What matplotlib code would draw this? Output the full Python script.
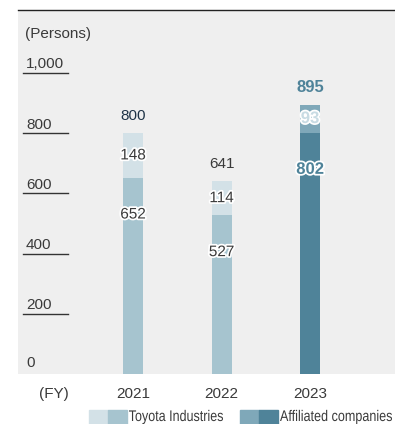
import matplotlib.pyplot as plt
import matplotlib.patheffects as pe
from matplotlib.patches import Rectangle, PathPatch
from matplotlib.textpath import TextPath
from matplotlib.font_manager import FontProperties
from matplotlib.transforms import Affine2D

# Employee counts by fiscal year
years = ['2021', '2022', '2023']
lower = [652, 527, 802]
upper = [148, 114, 93]
totals = [800, 641, 895]
y_ticks = [0, 200, 400, 600, 800, 1000]
y_tick_labels = ['0', '200', '400', '600', '800', '1,000']
legend_labels = ['Toyota Industries', 'Affiliated companies']

top_colors = ['#d3e1e7', '#d3e1e7', '#7fa8b9']
bottom_colors = ['#a6c4cf', '#a6c4cf', '#4f8399']

plt.rcParams['font.family'] = ['Liberation Sans', 'DejaVu Sans']

W, H = 395, 424
fig = plt.figure(figsize=(W / 100, H / 100), dpi=100)
ax = fig.add_axes([18 / W, (H - 374) / H, (W - 18) / W, 364 / H])
ax.set_facecolor('#efefef')

x = [0, 1, 2]
bw = 0.226
ax.bar(x, lower, width=bw, color=bottom_colors, zorder=2)
ax.bar(x, upper, bottom=lower, width=bw, color=top_colors, zorder=2)

ax.set_xlim(-1.30, 2.96)
ax.set_ylim(0, 1209)
ax.set_xticks([])
ax.set_yticks([])
for s in ['left', 'right', 'bottom']:
    ax.spines[s].set_visible(False)
ax.spines['top'].set_color('#222222')
ax.spines['top'].set_linewidth(1.0)

FS = 11
TXT = '#3a3a3a'

# y-axis labels sit on short underlines
trans = ax.get_yaxis_transform()
for v, lab in zip(y_ticks, y_tick_labels):
    ax.annotate(lab, (0.021, v), xycoords=trans,
                xytext=(0, 5 if v == 0 else 3.2), textcoords='offset points',
                ha='left', va='baseline', fontsize=FS, color=TXT)
    if v > 0:
        ax.plot([0.0133, 0.1326], [v, v], transform=trans, color='#333333',
                lw=1.0, clip_on=False)
ax.text(0.019, 1128, '(Persons)', transform=trans, ha='left', va='center',
        fontsize=FS, color=TXT)

outline = [pe.withStroke(linewidth=2.5, foreground='white')]

# segment and total labels (latest year in bold)
for i in range(3):
    bold = i == 2
    fs = 12 if bold else FS
    wt = 'bold' if bold else 'normal'
    ax.annotate(str(lower[i]), (x[i], lower[i]), xytext=(0, -26.5),
                textcoords='offset points', ha='center', va='center',
                fontsize=fs, color='#4f8399' if bold else TXT,
                fontweight=wt, path_effects=outline, zorder=4)
    ax.text(x[i], lower[i] + upper[i] / 2, str(upper[i]), ha='center',
            va='center', fontsize=fs, color='#c8dbe3' if bold else TXT,
            fontweight=wt, path_effects=outline, zorder=4)
    tot_color = ['#1f3447', TXT, '#4f8399'][i]
    ax.annotate(str(totals[i]), (x[i], totals[i]), xytext=(0, 12),
                textcoords='offset points', ha='center', va='center',
                fontsize=fs, color=tot_color, fontweight=wt, zorder=4)

# category labels below the panel
for xi, yr in zip(x, years):
    ax.annotate(yr, (xi, 0), xytext=(0, -14.5), textcoords='offset points',
                ha='center', va='center', fontsize=FS, color=TXT,
                annotation_clip=False)
ax.annotate('(FY)', (0.095, 0), xycoords=trans, xytext=(0, -14.5),
            textcoords='offset points', ha='center', va='center',
            fontsize=FS, color=TXT, annotation_clip=False)

# legend: two-tone swatches with condensed labels
def swatch(x0, c1, c2):
    for k, c in enumerate([c1, c2]):
        fig.patches.append(Rectangle(((x0 + 19 * k) / W, 0), 19 / W, 14 / H,
                                     color=c, transform=fig.transFigure,
                                     figure=fig))

def narrow_text(s, x0, width, size=15.4, baseline=3):
    tp = TextPath((0, 0), s, size=size, prop=FontProperties(family='Liberation Sans'))
    ext = tp.get_extents()
    sx = width / ext.width
    tr = Affine2D().translate(-ext.x0, 0).scale(sx, 1).translate(x0, baseline)
    fig.add_artist(PathPatch(tp, transform=tr, facecolor=TXT, lw=0))

swatch(89, '#d3e1e7', '#a6c4cf')
swatch(240, '#7fa8b9', '#4f8399')
narrow_text(legend_labels[0], 129, 94)
narrow_text(legend_labels[1], 280, 112)

fig.savefig('out.png', dpi=100)
